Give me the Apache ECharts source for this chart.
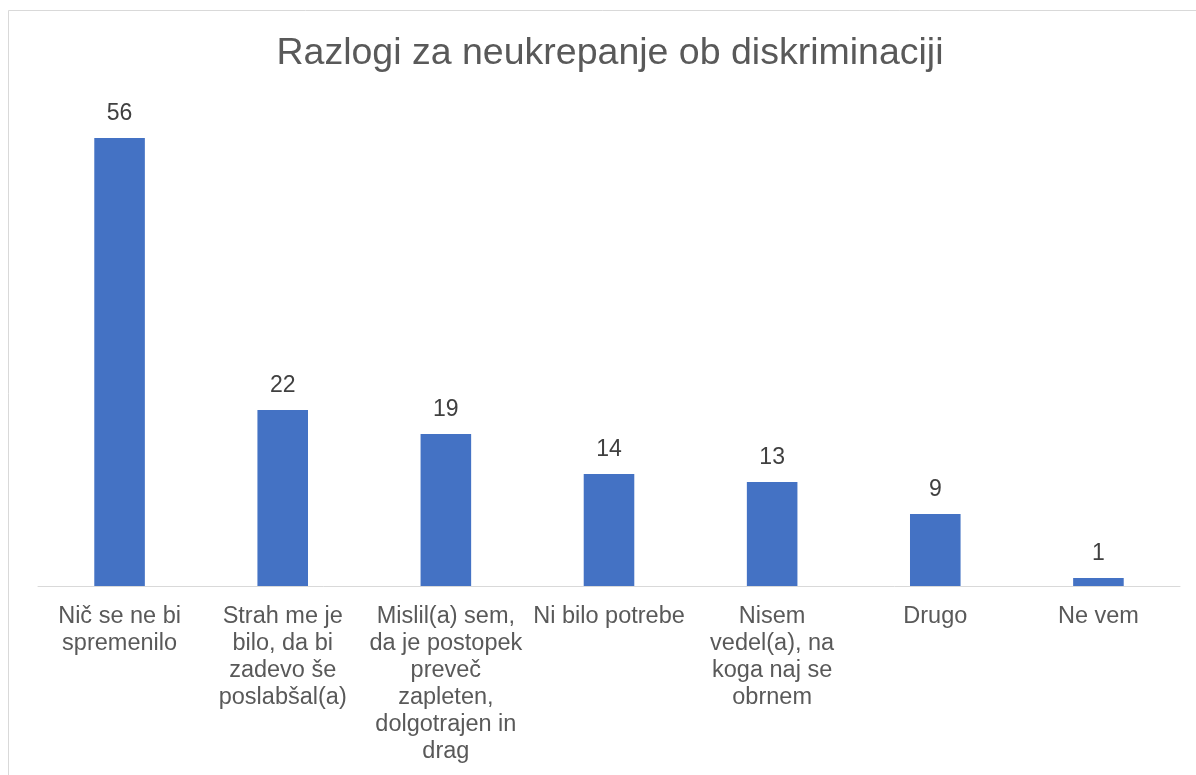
<!DOCTYPE html>
<html>
<head>
<meta charset="utf-8">
<script src="https://cdn.jsdelivr.net/npm/echarts@6/dist/echarts.min.js"></script>
<style>
  html, body { margin: 0; padding: 0; background: #fff; }
  #myChart { width: 1196px; height: 775px; }
</style>
</head>
<body>
<div id="myChart"></div>
<script>
// kategorije (z ročnimi prelomi vrstic kot v izvirniku)
var categories = [
  'Nič se ne bi\nspremenilo',
  'Strah me je\nbilo, da bi\nzadevo še\nposlabšal(a)',
  'Mislil(a) sem,\nda je postopek\npreveč\nzapleten,\ndolgotrajen in\ndrag',
  'Ni bilo potrebe',
  'Nisem\nvedel(a), na\nkoga naj se\nobrnem',
  'Drugo',
  'Ne vem'
];
// vrednosti stolpcev
var values = [56, 22, 19, 14, 13, 9, 1];

var myChart = echarts.init(document.getElementById('myChart'));
var font = '"Liberation Sans", Arial, sans-serif';

var option = {
  backgroundColor: '#fff',
  animation: false,
  title: {
    text: 'Razlogi za neukrepanje ob diskriminaciji',
    left: 605,
    top: 30,
    textAlign: 'center',
    textStyle: { fontFamily: font, fontSize: 37.5, fontWeight: 'normal', color: '#595959' }
  },
  // okvir grafa
  graphic: [{
    type: 'rect',
    shape: { x: 8.5, y: 10.5, width: 1300, height: 900 },
    style: { fill: 'none', stroke: '#d9d9d9', lineWidth: 1 },
    silent: true
  }],
  grid: { left: 38, right: 16, top: 106, bottom: 189 },
  xAxis: {
    type: 'category',
    data: categories,
    axisLine: { lineStyle: { color: '#d9d9d9', width: 1 } },
    axisTick: { show: false },
    axisLabel: {
      interval: 0,
      margin: 17,
      fontFamily: font,
      fontSize: 23.5,
      lineHeight: 27,
      color: '#595959',
      align: 'center'
    }
  },
  yAxis: {
    type: 'value',
    min: 0,
    max: 60,
    show: false,
    splitLine: { show: false }
  },
  series: [{
    type: 'bar',
    data: values,
    barWidth: '31%',
    itemStyle: { color: '#4472C4' },
    label: {
      show: true,
      position: 'top',
      distance: 13,
      fontFamily: font,
      fontSize: 23,
      color: '#404040'
    }
  }]
};
option && myChart.setOption(option);
</script>
</body>
</html>
